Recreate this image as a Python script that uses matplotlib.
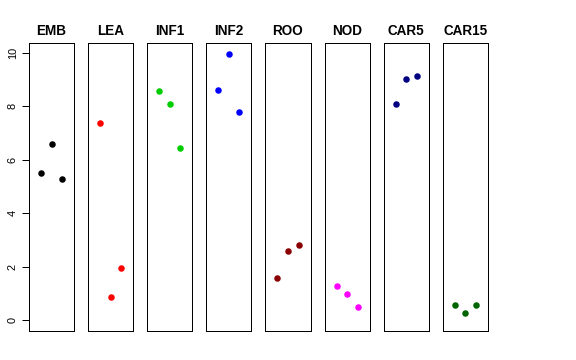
import numpy as np
import matplotlib.pyplot as plt

plt.rcParams['font.family'] = ['Liberation Sans', 'DejaVu Sans']

groups = ['EMB', 'LEA', 'INF1', 'INF2', 'ROO', 'NOD', 'CAR5', 'CAR15']
colors = ['black', 'red', '#00CD00', 'blue', '#8B0000', 'magenta', '#000080', '#006400']
values = [
    [5.50, 6.57, 5.27],
    [7.36, 0.85, 1.93],
    [8.57, 8.08, 6.42],
    [8.60, 9.96, 7.77],
    [1.56, 2.58, 2.81],
    [1.27, 0.98, 0.49],
    [8.06, 9.03, 9.14],
    [0.57, 0.25, 0.57],
]
yticks = [0, 2, 4, 6, 8, 10]

fig, axes = plt.subplots(1, len(groups), figsize=(8, 5), dpi=72, sharey=True)
fig.subplots_adjust(left=0.0503, right=0.847, top=0.8806, bottom=0.0806, wspace=0.31)

for i, ax in enumerate(axes):
    xs = np.arange(1, len(values[i]) + 1)
    ax.plot(xs, values[i], 'o', color=colors[i], ms=6.5, mec='none')
    ax.set_xlim(-0.136, 4.136)
    ax.set_ylim(-0.41, 10.36)
    ax.set_xticks([])
    ax.set_title(groups[i], fontsize=13.5, fontweight='bold', pad=8)
    for s in ax.spines.values():
        s.set_linewidth(1.0)
        s.set_color('black')
    if i == 0:
        ax.set_yticks(yticks)
        ax.set_yticklabels([str(t) for t in yticks], rotation=90, va='center', fontsize=11)
        ax.tick_params(axis='y', length=7, width=1, pad=4)
    else:
        ax.tick_params(axis='y', left=False, labelleft=False)

fig.savefig('out.png')
